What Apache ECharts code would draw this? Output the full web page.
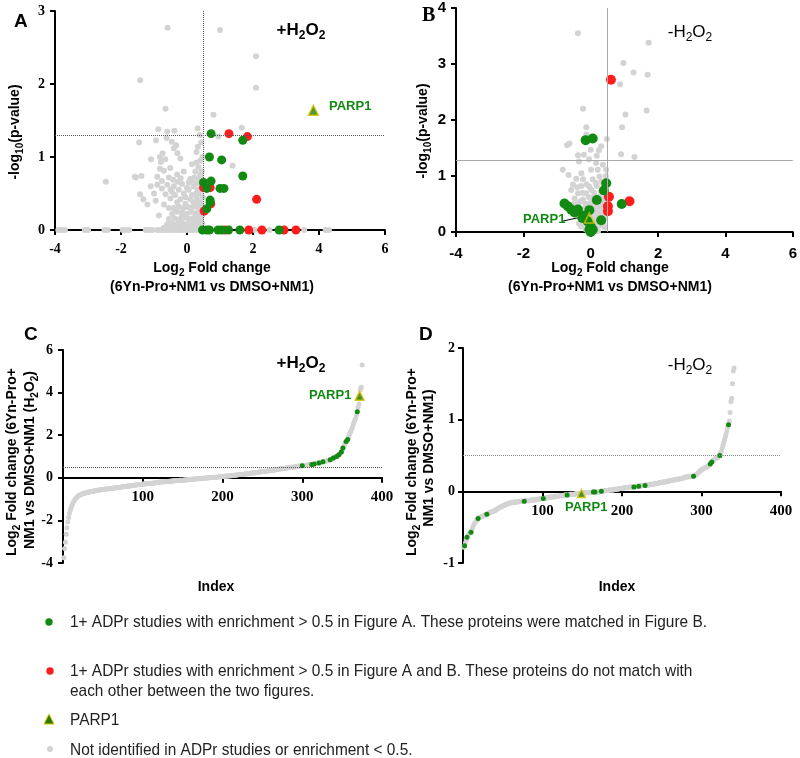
<!DOCTYPE html>
<html>
<head>
<meta charset="utf-8">
<script src="https://cdn.jsdelivr.net/npm/echarts@6/dist/echarts.min.js"></script>
<style>
  html, body { margin: 0; padding: 0; background: #fff; }
  #main { width: 800px; height: 758px; }
</style>
</head>
<body>
<div id="main"></div>
<script>
// ---- panel A: volcano, +H2O2 ----
var aGray = [
  [-0.59,2.77],[1.0,2.74],[2.09,2.38],[2.09,1.95],[-1.42,2.05],[-0.65,1.66],[0.8,1.58],[1.66,1.40],[0.95,1.28],[1.38,0.88],
  [-0.87,1.38],[-0.6,1.35],[-0.38,1.36],[0.32,1.39],[-1.45,1.2],[-0.94,1.23],[-0.62,1.26],[-0.46,1.21],[-0.33,1.16],[-0.4,1.12],
  [-0.74,1.05],[-0.82,1.0],[-0.66,0.97],[-1.09,0.97],[-0.79,0.93],[-0.29,1.05],[-0.2,0.98],[0.29,1.07],[0.28,0.92],[0.4,0.95],
  [-0.51,0.85],[-0.82,0.84],[-0.7,0.81],[-1.55,0.72],[-1.38,0.74],[-2.46,0.66],[-0.9,0.73],[-0.55,0.72],[-0.42,0.69],[-0.76,0.67],
  [-0.19,0.71],[-0.28,0.66],[0.15,0.67],[0.4,0.76],[0.3,0.64],[-0.9,0.62],[-0.6,0.62],[-0.4,0.6],[-0.15,0.63],[0.0,0.58],
  [0.2,0.6],[-0.76,0.57],[-0.5,0.55],[-0.25,0.55],[0.05,0.55],[0.32,0.55],[-1.42,0.49],[-1.32,0.42],[-0.65,0.49],[-0.36,0.48],
  [-0.1,0.5],[0.15,0.48],[0.38,0.5],[-0.5,0.43],[-0.2,0.42],[0.1,0.42],[0.3,0.43],[-0.3,0.38],[-0.05,0.36],[0.2,0.38],[0.4,0.38],
  [-1.58,0.73],[-1.0,0.5],[0.33,1.14],[0.39,1.3],[0.45,0.8],[0.45,0.62],[-1.2,0.35],[-0.7,0.35],
  [-0.4,0.3],[-0.25,0.32],[-0.1,0.3],[0.05,0.31],[0.2,0.32],[0.35,0.3],[0.45,0.33],
  [-0.45,0.22],[-0.3,0.25],[-0.15,0.24],[0.0,0.22],[0.12,0.25],[0.25,0.23],[0.38,0.25],[0.46,0.2],
  [-0.55,0.15],[-0.38,0.16],[-0.22,0.15],[-0.08,0.17],[0.05,0.15],[0.18,0.16],[0.3,0.15],[0.42,0.14],
  [-0.6,0.08],[-0.45,0.09],[-0.3,0.08],[-0.15,0.1],[0.0,0.08],[0.1,0.1],[0.22,0.09],[0.35,0.08],[0.46,0.09],
  [-0.7,0.03],[-0.5,0.04],[-0.35,0.03],[-0.2,0.04],[-0.05,0.03],[0.08,0.04],[0.2,0.03],[0.32,0.04],[0.44,0.03],
  [0.28,0.5],[0.1,0.7],[0.25,0.8],[0.35,0.7],[-0.05,0.45],[-0.35,0.28],[0.48,0.45],[0.42,0.55],
  [-0.15,0.2],[0.3,0.2],[-0.25,0.12],[0.15,0.06],[0.4,0.12],[0.25,0.36],[-0.55,0.3],[-0.45,0.52],[0.05,0.65],[0.22,0.72],
  [-0.3,0.76],[0.35,0.86],[0.15,0.9],[-0.1,0.8],[0.45,0.7],[0.47,1.0],[0.43,1.2],[-1.1,0.6],[-0.95,0.4],[-0.85,0.2],
  [-3.9,0],[-3.8,0],[-3.7,0],[-3.1,0],[-3.0,0],[-2.5,0],[-2.4,0],[-1.95,0],[-1.85,0],[-1.75,0],[-1.25,0],[-1.15,0],[-1.05,0],
  [-0.9,0],[-0.8,0],[-0.7,0],[-0.6,0],[-0.5,0],[-0.4,0],[-0.3,0],[-0.2,0],[-0.1,0],[0.0,0],[0.1,0],[0.2,0],[0.3,0],[0.4,0],
  [2.05,0],[2.5,0],[3.55,0],[4.2,0],[4.3,0]
];
var aRed = [[1.27,1.32],[1.83,1.28],[0.5,0.58],[0.7,0.58],[0.72,0.36],[0.52,0.26],[2.11,0.42],
  [1.15,0],[1.87,0],[2.27,0],[2.94,0],[3.3,0]];
var aGreen = [[0.73,1.32],[1.69,1.23],[0.68,1.0],[1.05,0.96],[1.69,0.74],[0.5,0.65],[0.73,0.67],[0.6,0.57],
  [1.0,0.57],[1.12,0.57],[0.7,0.41],[0.7,0.38],[0.6,0.29],
  [0.47,0],[0.6,0],[0.68,0],[0.94,0],[1.05,0],[1.26,0],[1.6,0],[2.79,0]];
var aParp = [[3.83,1.64]];

// ---- panel B: volcano, -H2O2 ----
var bGray = [
  [-0.38,3.55],[1.72,3.38],[0.97,3.02],[1.27,2.85],[1.69,2.81],[0.87,2.64],[-0.23,2.2],[1.66,2.17],[1.03,2.1],[0.93,1.87],
  [-0.13,1.87],[-0.13,1.74],[-0.63,1.58],[-0.7,1.55],[0.48,1.66],[0.31,1.53],[0.9,1.39],[1.3,1.34],
  [0.24,1.46],[0.18,1.36],[-0.38,1.37],[-0.35,1.26],[-0.2,1.38],[0.16,1.23],[0.36,1.2],[0.0,1.47],
  [-0.83,1.11],[-0.66,1.02],[-0.28,1.05],[0.01,1.11],[0.21,1.11],[0.46,1.11],
  [-0.43,0.95],[-0.23,0.94],[0.06,0.94],[0.26,0.99],[-0.53,0.85],[-0.28,0.82],[-0.04,0.81],[0.18,0.82],
  [-0.58,0.75],[-0.38,0.69],[-0.14,0.69],[0.1,0.7],[0.3,0.72],[-0.48,0.6],[-0.23,0.58],[0.01,0.6],[0.26,0.63],
  [-0.35,0.52],[-0.15,0.5],[0.1,0.5],[0.3,0.48],[-0.42,0.45],[-0.05,0.45],[0.2,0.44],
  [-0.3,0.38],[-0.12,0.36],[0.12,0.35],[0.28,0.38],[0.42,0.4],[-0.22,0.3],[0.18,0.3],[0.35,0.3],
  [-0.15,0.22],[0.1,0.24],[0.25,0.2],[0.42,0.25],[-0.1,0.12],[0.08,0.15],[0.2,0.12],[0.15,0.05],[-0.15,0.05],
  [0.45,1.0],[0.38,0.85],[0.4,0.6],[-0.05,1.3],
  [-0.35,0.15],[-0.28,0.1],[-0.2,0.18],[-0.1,0.28],[0.05,0.3],[0.15,0.2],[0.22,0.35],[0.3,0.12],[0.38,0.15],[-0.3,0.55],
  [-0.18,0.42],[0.0,0.52],[0.14,0.4],[0.25,0.5],[-0.5,0.5],[-0.05,0.62],[0.12,0.65],[0.35,0.55],[-0.25,0.7],[0.02,0.75],
  [0.15,0.88],[-0.12,0.85],[0.32,0.9],[-0.4,0.8],[0.42,0.08],[0.08,0.0],[-0.08,0.0],[0.22,0.02]
];
var bRed = [[0.6,2.72],[0.54,0.63],[1.15,0.55],[0.51,0.46],[0.51,0.37]];
var bGreen = [[-0.15,1.64],[0.06,1.67],[0.46,0.87],[0.39,0.74],[0.18,0.57],[0.92,0.5],
  [-0.78,0.51],[-0.68,0.46],[-0.58,0.4],[-0.38,0.4],[-0.04,0.39],[-0.25,0.25],[-0.09,0.19],
  [0.31,0.21],[0.0,0.1],[-0.04,0.04],[0.06,0.04],[0.0,0.0],[-0.2,0.29],[-0.48,0.35]];
var bParp = [[-0.04,0.25]];

// ---- panel C: ranked fold change, +H2O2 (index 1..375) ----
var cValues = [
  -3.75,-3.32,-3.02,-2.65,-2.35,-2.08,-1.86,-1.68,-1.54,-1.42,
  -1.32,-1.23,-1.15,-1.08,-1.02,-0.97,-0.93,-0.89,-0.86,-0.83,
  -0.81,-0.79,-0.77,-0.76,-0.74,-0.73,-0.72,-0.71,-0.70,-0.69,
  -0.68,-0.67,-0.67,-0.66,-0.65,-0.64,-0.63,-0.63,-0.62,-0.61,
  -0.60,-0.60,-0.59,-0.58,-0.58,-0.57,-0.56,-0.56,-0.55,-0.55,
  -0.54,-0.54,-0.53,-0.53,-0.52,-0.52,-0.51,-0.51,-0.50,-0.50,
  -0.50,-0.49,-0.49,-0.48,-0.48,-0.47,-0.47,-0.46,-0.46,-0.45,
  -0.45,-0.44,-0.43,-0.43,-0.42,-0.42,-0.41,-0.41,-0.40,-0.40,
  -0.39,-0.39,-0.38,-0.38,-0.37,-0.37,-0.36,-0.36,-0.35,-0.35,
  -0.34,-0.34,-0.33,-0.33,-0.32,-0.32,-0.31,-0.31,-0.30,-0.30,
  -0.29,-0.29,-0.29,-0.28,-0.28,-0.28,-0.27,-0.27,-0.27,-0.26,
  -0.26,-0.25,-0.25,-0.24,-0.24,-0.23,-0.23,-0.22,-0.22,-0.21,
  -0.21,-0.20,-0.20,-0.20,-0.19,-0.19,-0.18,-0.18,-0.18,-0.17,
  -0.17,-0.17,-0.16,-0.16,-0.16,-0.15,-0.15,-0.15,-0.14,-0.14,
  -0.14,-0.13,-0.13,-0.13,-0.13,-0.12,-0.12,-0.12,-0.11,-0.11,
  -0.11,-0.10,-0.10,-0.10,-0.09,-0.09,-0.09,-0.08,-0.08,-0.08,
  -0.07,-0.07,-0.07,-0.06,-0.06,-0.06,-0.05,-0.05,-0.05,-0.04,
  -0.04,-0.04,-0.03,-0.03,-0.03,-0.02,-0.02,-0.02,-0.01,-0.01,
  -0.01,0.00,0.00,0.00,0.01,0.01,0.01,0.02,0.02,0.02,
  0.03,0.03,0.03,0.04,0.04,0.05,0.05,0.05,0.06,0.06,
  0.06,0.07,0.07,0.08,0.08,0.08,0.09,0.09,0.10,0.10,
  0.10,0.11,0.11,0.12,0.12,0.12,0.13,0.13,0.14,0.14,
  0.15,0.15,0.16,0.16,0.16,0.17,0.17,0.18,0.18,0.19,
  0.19,0.20,0.20,0.21,0.21,0.22,0.22,0.23,0.23,0.24,
  0.24,0.25,0.25,0.26,0.26,0.27,0.27,0.28,0.28,0.29,
  0.29,0.30,0.30,0.31,0.31,0.32,0.32,0.33,0.34,0.34,
  0.35,0.35,0.36,0.36,0.37,0.38,0.38,0.39,0.39,0.40,
  0.40,0.41,0.42,0.42,0.43,0.43,0.44,0.45,0.45,0.46,
  0.46,0.47,0.48,0.48,0.49,0.49,0.50,0.50,0.51,0.51,
  0.52,0.52,0.53,0.53,0.54,0.54,0.55,0.55,0.56,0.56,
  0.57,0.57,0.58,0.58,0.59,0.59,0.60,0.60,0.61,0.61,
  0.62,0.63,0.63,0.64,0.65,0.66,0.66,0.67,0.68,0.69,
  0.70,0.71,0.72,0.73,0.74,0.75,0.76,0.77,0.78,0.79,
  0.80,0.81,0.82,0.83,0.85,0.87,0.89,0.91,0.93,0.95,
  0.97,0.99,1.00,1.02,1.05,1.08,1.12,1.16,1.21,1.28,
  1.40,1.47,1.56,1.64,1.70,1.76,1.80,1.90,2.00,2.10,
  2.20,2.28,2.38,2.50,2.62,2.72,2.80,2.95,3.10,3.30,
  3.45,3.70,4.15,4.25,5.30
];
var cGreenIdx = [300,312,315,321,326,335,339,343,346,349,351,355,357,369];
var cParp = [[372,3.85]];

// ---- panel D: ranked fold change, -H2O2 (index 1..341) ----
var dValues = [
  -0.78,-0.76,-0.72,-0.68,-0.64,-0.62,-0.60,-0.59,-0.58,-0.57,
  -0.54,-0.51,-0.48,-0.46,-0.44,-0.42,-0.41,-0.40,-0.38,-0.37,
  -0.36,-0.36,-0.35,-0.35,-0.34,-0.34,-0.33,-0.33,-0.32,-0.32,
  -0.31,-0.31,-0.30,-0.30,-0.29,-0.29,-0.28,-0.28,-0.27,-0.27,
  -0.26,-0.25,-0.25,-0.24,-0.23,-0.23,-0.22,-0.21,-0.21,-0.20,
  -0.20,-0.19,-0.19,-0.18,-0.18,-0.17,-0.17,-0.17,-0.16,-0.16,
  -0.16,-0.16,-0.16,-0.15,-0.15,-0.15,-0.15,-0.15,-0.15,-0.14,
  -0.14,-0.14,-0.14,-0.14,-0.14,-0.14,-0.14,-0.14,-0.13,-0.13,
  -0.13,-0.13,-0.13,-0.13,-0.12,-0.12,-0.12,-0.12,-0.12,-0.12,
  -0.12,-0.11,-0.11,-0.11,-0.11,-0.11,-0.10,-0.10,-0.10,-0.10,
  -0.10,-0.10,-0.10,-0.09,-0.09,-0.09,-0.09,-0.09,-0.08,-0.08,
  -0.08,-0.08,-0.08,-0.08,-0.07,-0.07,-0.07,-0.07,-0.07,-0.07,
  -0.06,-0.06,-0.06,-0.06,-0.06,-0.06,-0.06,-0.05,-0.05,-0.05,
  -0.05,-0.05,-0.05,-0.05,-0.04,-0.04,-0.04,-0.04,-0.04,-0.04,
  -0.04,-0.03,-0.03,-0.03,-0.03,-0.03,-0.03,-0.03,-0.03,-0.03,
  -0.02,-0.02,-0.02,-0.02,-0.02,-0.02,-0.02,-0.02,-0.02,-0.02,
  -0.02,-0.01,-0.01,-0.01,-0.01,-0.01,-0.01,-0.01,-0.01,-0.01,
  -0.01,-0.01,0.00,0.00,0.00,0.00,0.00,0.01,0.01,0.01,
  0.01,0.01,0.01,0.02,0.02,0.02,0.02,0.02,0.02,0.03,
  0.03,0.03,0.03,0.03,0.03,0.04,0.04,0.04,0.04,0.04,
  0.04,0.05,0.05,0.05,0.05,0.05,0.05,0.05,0.06,0.06,
  0.06,0.06,0.06,0.06,0.06,0.06,0.07,0.07,0.07,0.07,
  0.07,0.07,0.07,0.08,0.08,0.08,0.08,0.08,0.08,0.09,
  0.09,0.09,0.09,0.09,0.10,0.10,0.10,0.10,0.10,0.10,
  0.11,0.11,0.11,0.11,0.11,0.12,0.12,0.12,0.12,0.12,
  0.13,0.13,0.13,0.13,0.13,0.14,0.14,0.14,0.14,0.15,
  0.15,0.15,0.15,0.15,0.16,0.16,0.16,0.16,0.17,0.17,
  0.17,0.17,0.18,0.18,0.18,0.18,0.19,0.19,0.19,0.20,
  0.20,0.20,0.20,0.21,0.21,0.21,0.21,0.21,0.21,0.21,
  0.22,0.22,0.23,0.24,0.25,0.26,0.27,0.28,0.29,0.30,
  0.31,0.31,0.32,0.33,0.33,0.34,0.34,0.35,0.36,0.37,
  0.38,0.40,0.41,0.42,0.43,0.44,0.45,0.46,0.46,0.47,
  0.48,0.49,0.50,0.53,0.56,0.60,0.64,0.68,0.72,0.76,
  0.80,0.85,0.90,0.93,0.98,1.10,1.25,1.30,1.50,1.68,
  1.72
];
var dGreenIdx = [2,5,10,19,30,77,101,131,164,166,174,215,221,229,290,311,313,323,334];
var dParp = [[149,-0.03]];

// ---- legend texts ----
var legendTexts = [
  '1+ ADPr studies with enrichment > 0.5 in Figure A. These proteins were matched in Figure B.',
  '1+ ADPr studies with enrichment > 0.5 in Figure A and B. These proteins do not match with\neach other between the two figures.',
  'PARP1',
  'Not identified in ADPr studies or enrichment < 0.5.'
];

var GRAY = '#d3d3d3', GREEN = '#128a12', RED = '#ff1c1c';
var SANS = '"Liberation Sans", Arial, sans-serif';
var SERIF = '"Liberation Serif", "Times New Roman", serif';
var LEG_FONT = '17px ' + SANS;

// squeeze the legend font to the narrow face of the original
var measure = document.createElement('canvas').getContext('2d');
measure.font = LEG_FONT;
var legScale = 637 / measure.measureText(legendTexts[0]).width;

var myChart = echarts.init(document.getElementById('main'));

function axis(gridIndex, min, max, interval, font, extra) {
  var a = {
    type: 'value', gridIndex: gridIndex, min: min, max: max, interval: interval,
    axisLine: { show: true, onZero: false, lineStyle: { color: '#000', width: 2 } },
    axisTick: { show: true, length: 5, lineStyle: { color: '#000', width: 2 } },
    axisLabel: { color: '#000', fontFamily: font, fontWeight: 'bold', fontSize: 14, margin: 10 },
    splitLine: { show: false }
  };
  if (extra) {
    for (var k in extra) {
      if (typeof extra[k] === 'object' && a[k]) Object.assign(a[k], extra[k]);
      else a[k] = extra[k];
    }
  }
  return a;
}

function dots(xi, data, color, size, extra) {
  var s = {
    type: 'scatter', xAxisIndex: xi, yAxisIndex: xi, data: data,
    symbolSize: size, silent: true,
    itemStyle: { color: color, opacity: 1 }
  };
  if (extra) Object.assign(s, extra);
  return s;
}

function markLines(lines, style) {
  return { silent: true, symbol: 'none', label: { show: false }, lineStyle: style, data: lines };
}

function parpSeries(xi, data, size, hollow) {
  return dots(xi, data, '#2a7a00', size, {
    symbol: 'triangle',
    itemStyle: { color: hollow ? 'rgba(255,255,255,0)' : '#2a7a00', borderColor: '#d8c400', borderWidth: 1.5 }
  });
}

function sub(size, bold) {
  var w = bold ? 'bold ' : '';
  return {
    n: { font: w + size + 'px ' + SANS, lineHeight: size + 6, color: '#000' },
    s: { font: w + Math.round(size * 0.7) + 'px ' + SANS, lineHeight: Math.round(size * 0.8), verticalAlign: 'bottom', color: '#000' }
  };
}

function txt(x, y, text, rich, rot) {
  var g = { type: 'text', x: x, y: y, silent: true,
    style: { text: text, rich: rich, align: 'center', verticalAlign: 'middle' } };
  if (rot) g.rotation = rot;
  return g;
}

function legText(y, text, va) {
  return { type: 'text', x: 70, y: y, scaleX: legScale, silent: true,
    style: { text: text, font: LEG_FONT, fill: '#222', lineHeight: 20, verticalAlign: va || 'middle' } };
}

var titleRich = sub(14, true);
var condBold = sub(17, true);
var condNorm = sub(17, false);
var R90 = Math.PI / 2;

var cGreen = cGreenIdx.map(function (i) { return [i, cValues[i - 1]]; });
var dGreen = dGreenIdx.map(function (i) { return [i, dValues[i - 1]]; });

var option = {
  animation: false,
  backgroundColor: '#fff',
  grid: [
    { left: 55, top: 11, width: 330, height: 219 },
    { left: 456, top: 8, width: 338, height: 224 },
    { left: 63, top: 350, width: 319, height: 213 },
    { left: 463, top: 348, width: 318, height: 215 }
  ],
  xAxis: [
    axis(0, -4, 6, 2, SERIF, { axisLabel: { margin: 12 } }),
    axis(1, -4, 6, 2, SANS, { axisLabel: { margin: 14, fontSize: 15 } }),
    // x axis crosses at y = 0 (grid height 213 over -4..6)
    axis(2, 0, 400, 100, SERIF, { offset: -213 * 4 / 10, axisLabel: { showMinLabel: false, margin: 12, fontSize: 15 } }),
    axis(3, 0, 400, 100, SERIF, { offset: -215 / 3, axisLabel: { showMinLabel: false, margin: 12, fontSize: 15 } })
  ],
  yAxis: [
    axis(0, 0, 3, 1, SERIF),
    axis(1, 0, 4, 1, SANS, { axisLabel: { fontSize: 15 } }),
    axis(2, -4, 6, 2, SERIF),
    axis(3, -1, 2, 1, SERIF, { axisLabel: { margin: 8 } })
  ],
  series: [
    dots(0, aGray, GRAY, 6, { markLine: markLines([{ xAxis: 0.5 }, { yAxis: 1.3 }], { color: '#555', type: [1, 1], width: 1 }) }),
    dots(0, aRed, RED, 9),
    dots(0, aGreen, GREEN, 9),
    parpSeries(0, aParp, 10, false),

    dots(1, bGray, GRAY, 6, { markLine: markLines([{ xAxis: 0.5 }, { yAxis: 1.28 }], { color: '#aaa', type: 'solid', width: 1 }) }),
    dots(1, bRed, RED, 10),
    dots(1, bGreen, GREEN, 10),
    parpSeries(1, bParp, 10, true),

    dots(2, cValues.map(function (v, i) { return [i + 1, v]; }), GRAY, 5,
      { markLine: markLines([{ yAxis: 0.5 }], { color: '#555', type: [1, 1], width: 1 }) }),
    dots(2, cGreen, GREEN, 5),
    parpSeries(2, cParp, 9, false),

    dots(3, dValues.map(function (v, i) { return [i + 1, v]; }), GRAY, 5,
      { markLine: markLines([{ yAxis: 0.5 }], { color: '#888', type: [1, 1], width: 1 }) }),
    dots(3, dGreen, GREEN, 5),
    parpSeries(3, dParp, 8, false)
  ],
  graphic: [
    // panel letters
    { type: 'text', x: 14, y: 12, style: { text: 'A', font: 'bold 19px ' + SANS, fill: '#000' } },
    { type: 'text', x: 422, y: 6, style: { text: 'B', font: 'bold 20px ' + SERIF, fill: '#000' } },
    { type: 'text', x: 24, y: 325, style: { text: 'C', font: 'bold 19px ' + SANS, fill: '#000' } },
    { type: 'text', x: 419, y: 325, style: { text: 'D', font: 'bold 19px ' + SANS, fill: '#000' } },

    // conditions
    txt(301, 30, '{n|+H}{s|2}{n|O}{s|2}', condBold),
    txt(690, 32, '{n|-H}{s|2}{n|O}{s|2}', condNorm),
    txt(301, 363, '{n|+H}{s|2}{n|O}{s|2}', condBold),
    txt(690, 365, '{n|-H}{s|2}{n|O}{s|2}', condNorm),

    // axis titles A
    txt(212, 268, '{n|Log}{s|2}{n| Fold change}', titleRich),
    txt(212, 287, '{n|(6Yn-Pro+NM1 vs DMSO+NM1)}', titleRich),
    txt(15, 132, '{n|-log}{s|10}{n|(p-value)}', titleRich, R90),
    // axis titles B
    txt(610, 268, '{n|Log}{s|2}{n| Fold change}', titleRich),
    txt(610, 287, '{n|(6Yn-Pro+NM1 vs DMSO+NM1)}', titleRich),
    txt(423, 131, '{n|-log}{s|10}{n|(p-value)}', titleRich, R90),
    // axis titles C
    txt(216, 587, '{n|Index}', titleRich),
    txt(12, 462, '{n|Log}{s|2}{n| Fold change (6Yn-Pro+}', titleRich, R90),
    txt(30, 460, '{n|NM1 vs DMSO+NM1 (H}{s|2}{n|O}{s|2}{n|)}', titleRich, R90),
    // axis titles D
    txt(617, 587, '{n|Index}', titleRich),
    txt(412, 462, '{n|Log}{s|2}{n| Fold change (6Yn-Pro+}', titleRich, R90),
    txt(429, 458, '{n|NM1 vs DMSO+NM1)}', titleRich, R90),

    // PARP1 labels
    { type: 'text', x: 329, y: 100, style: { text: 'PARP1', font: 'bold 13px ' + SANS, fill: GREEN } },
    { type: 'text', x: 523, y: 213, style: { text: 'PARP1', font: 'bold 13px ' + SANS, fill: GREEN } },
    { type: 'line', shape: { x1: 563, y1: 221, x2: 586, y2: 216 }, style: { stroke: '#000', lineWidth: 1 } },
    { type: 'text', x: 309, y: 389, style: { text: 'PARP1', font: 'bold 13px ' + SANS, fill: GREEN } },
    { type: 'text', x: 565, y: 501, style: { text: 'PARP1', font: 'bold 13px ' + SANS, fill: GREEN } },

    // legend
    { type: 'circle', shape: { cx: 49, cy: 622, r: 3.7 }, style: { fill: GREEN } },
    legText(622, legendTexts[0]),
    { type: 'circle', shape: { cx: 50, cy: 671, r: 3.7 }, style: { fill: RED } },
    legText(661, legendTexts[1], 'top'),
    { type: 'polygon', shape: { points: [[49, 714], [44, 724], [54, 724]] }, style: { fill: '#2a7a00', stroke: '#d8c400', lineWidth: 1 } },
    legText(720, legendTexts[2]),
    { type: 'circle', shape: { cx: 50, cy: 749, r: 3 }, style: { fill: GRAY } },
    legText(750, legendTexts[3])
  ]
};

myChart.setOption(option);
</script>
</body>
</html>
